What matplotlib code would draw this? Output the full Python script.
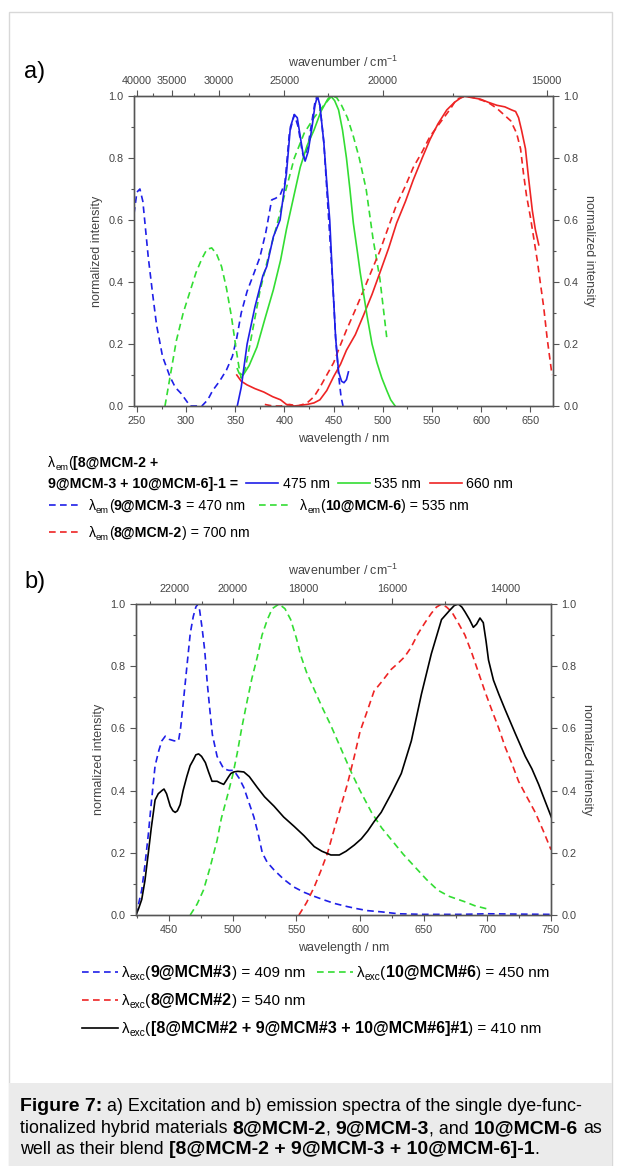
import matplotlib
matplotlib.use('Agg')
import matplotlib.pyplot as plt
from matplotlib.font_manager import FontProperties
from matplotlib.lines import Line2D
from matplotlib.patches import Rectangle
from matplotlib.ticker import MultipleLocator

plt.rcParams['font.family'] = ['Liberation Sans', 'DejaVu Sans']
plt.rcParams['mathtext.fontset'] = 'custom'
plt.rcParams['mathtext.rm'] = 'Liberation Sans'

W, H = 621, 1166
BLUE, GREEN, RED = '#1f1fe8', '#33dd33', '#ee2424'
DASH = (0, (4, 2.6))

# ---- panel a: excitation spectra ----
a_blue_x = [352, 356, 362, 370, 378, 382, 388.7, 395.5, 402, 406, 410, 413, 416, 419, 421, 424, 428, 431,
            433.5, 436, 440, 443, 446, 449, 452, 455, 458, 460.5, 463, 465]
a_blue_y = [0, 0.06, 0.2, 0.32, 0.42, 0.45, 0.546, 0.6, 0.75, 0.9, 0.94, 0.93, 0.87, 0.81, 0.79, 0.82, 0.9,
            0.97, 1.0, 0.97, 0.85, 0.72, 0.6, 0.4, 0.22, 0.11, 0.08, 0.075, 0.085, 0.11]
a_green_x = [352, 354, 358, 364, 372, 380, 388.7, 396, 402, 409, 416, 423, 430, 437, 444, 447, 451, 455,
             459, 463, 466.5, 470, 474, 477, 484, 489, 494, 499, 504, 508, 512.5]
a_green_y = [0.12, 0.105, 0.1, 0.13, 0.19, 0.28, 0.375, 0.47, 0.57, 0.67, 0.77, 0.84, 0.89, 0.95, 0.99, 1.0,
             0.985, 0.955, 0.89, 0.8, 0.7, 0.59, 0.5, 0.43, 0.29, 0.2, 0.14, 0.09, 0.05, 0.02, 0]
a_red_x = [351.5, 356, 362, 370, 379, 388, 396, 402, 410, 418, 423, 430, 436, 443, 450, 457, 463, 472, 480,
           489, 497, 506, 514, 523, 531, 540, 548, 556, 565, 573, 582, 590, 599, 607, 616, 624, 631, 635,
           638, 641, 645, 648, 652, 655, 658.5]
a_red_y = [0.10, 0.08, 0.068, 0.056, 0.045, 0.03, 0.02, 0.005, 0.0, 0.003, 0.005, 0.01, 0.02, 0.05, 0.095,
           0.135, 0.18, 0.23, 0.29, 0.36, 0.43, 0.51, 0.59, 0.66, 0.73, 0.80, 0.86, 0.91, 0.955, 0.98, 1.0,
           0.995, 0.99, 0.98, 0.97, 0.965, 0.955, 0.95, 0.93, 0.89, 0.83, 0.74, 0.63, 0.57, 0.52]
a_blue_d_x = [247, 250, 253, 256, 261.5, 266, 270, 276, 283.5, 289, 295, 304, 316, 322, 327, 334, 341, 347,
              351.5, 356, 362, 368, 375, 381, 387, 391, 395.5, 400.5, 405, 410, 414, 418, 420, 424, 428, 431,
              433, 436, 440, 443, 446, 449, 452, 455, 457.5, 459.5]
a_blue_d_y = [0.62, 0.69, 0.70, 0.66, 0.48, 0.36, 0.26, 0.16, 0.095, 0.06, 0.04, 0.0, 0.0, 0.02, 0.05, 0.08,
              0.116, 0.16, 0.22, 0.3, 0.37, 0.42, 0.48, 0.56, 0.665, 0.67, 0.68, 0.72, 0.88, 0.94, 0.9, 0.82,
              0.8, 0.84, 0.92, 0.98, 1.0, 0.97, 0.85, 0.7, 0.55, 0.4, 0.22, 0.1, 0.03, 0.0]
a_green_d_x = [278.5, 284, 290, 297, 304, 310, 316, 321, 326, 331, 336, 341, 346, 351, 354, 356, 360, 365,
               375, 385, 392, 400, 410, 420, 430, 440, 448, 453, 458, 464, 470, 476, 483, 490, 497, 504]
a_green_d_y = [0, 0.1, 0.21, 0.3, 0.37, 0.43, 0.475, 0.505, 0.51, 0.49, 0.45, 0.38, 0.29, 0.18, 0.12, 0.09,
               0.12, 0.2, 0.37, 0.5, 0.58, 0.68, 0.8, 0.88, 0.93, 0.97, 1.0, 0.995, 0.97, 0.93, 0.87, 0.8,
               0.7, 0.54, 0.41, 0.22]
a_red_d_x = [380, 388, 396, 405, 414, 423, 430, 436, 443, 450, 456, 463, 472, 480, 489, 497, 506, 514, 523,
             531, 540, 548, 555, 562, 569, 575, 580, 585, 592, 602, 609, 616, 623, 630, 636, 640, 643, 646,
             650, 653, 657, 660, 663.5, 667, 672]
a_red_d_y = [0.005, 0.0, 0.0, 0.005, 0.0, 0.01, 0.03, 0.06, 0.1, 0.14, 0.19, 0.245, 0.31, 0.37, 0.44, 0.50,
             0.58, 0.65, 0.71, 0.77, 0.82, 0.87, 0.90, 0.93, 0.96, 0.99, 0.995, 1.0, 0.995, 0.985, 0.975,
             0.96, 0.94, 0.92, 0.88, 0.83, 0.75, 0.68, 0.61, 0.55, 0.47, 0.40, 0.32, 0.22, 0.1]

# ---- panel b: emission spectra ----
b_blue_x = [424, 428.5, 431, 433.7, 436, 439, 442, 444.3, 447, 450, 454, 457.4, 459, 461.3, 464, 466.6, 469,
            471, 472.5, 474, 476, 478, 480, 482, 484, 487.7, 492.9, 497, 500.8, 505, 508.7, 512, 516.6, 520,
            523.2, 527, 532.4, 540, 548, 556, 564, 572, 580, 590, 598, 606, 617, 630, 650, 680, 700, 720, 750]
b_blue_y = [0, 0.08, 0.16, 0.26, 0.36, 0.48, 0.53, 0.56, 0.575, 0.565, 0.56, 0.56, 0.6, 0.69, 0.8, 0.905,
            0.96, 0.99, 1.0, 0.98, 0.92, 0.85, 0.745, 0.66, 0.58, 0.51, 0.47, 0.465, 0.465, 0.44, 0.41, 0.37,
            0.315, 0.26, 0.2, 0.17, 0.145, 0.115, 0.09, 0.073, 0.06, 0.048, 0.037, 0.027, 0.02, 0.014, 0.01,
            0.004, 0.002, 0.002, 0.004, 0.003, 0.002]
b_green_x = [466.6, 472, 477, 482, 487.7, 491, 495.6, 500, 503.5, 507, 511.4, 515, 519.3, 523, 527.2, 531,
             536.3, 541, 545.5, 550, 553.4, 558, 564, 570, 577, 585, 593, 600, 609, 617, 625, 634, 643, 652,
             661, 670, 682, 690, 699.5]
b_green_y = [0, 0.035, 0.08, 0.15, 0.24, 0.31, 0.38, 0.45, 0.52, 0.6, 0.69, 0.76, 0.83, 0.9, 0.95, 0.985,
             1.0, 0.985, 0.95, 0.89, 0.835, 0.78, 0.725, 0.67, 0.61, 0.535, 0.46, 0.40, 0.33, 0.28, 0.24,
             0.195, 0.155, 0.115, 0.08, 0.06, 0.043, 0.03, 0.02]
b_red_x = [552, 558, 564, 569, 574.5, 580, 585, 590, 595.5, 600, 606, 611, 617, 624.5, 630, 635, 640, 645.6,
           651, 656, 660, 664, 668, 672, 677, 682.4, 688, 693, 698, 703.4, 709, 714, 719, 724.5, 731, 737.6,
           744, 750]
b_red_y = [0, 0.04, 0.09, 0.14, 0.2, 0.28, 0.35, 0.42, 0.51, 0.59, 0.66, 0.72, 0.75, 0.79, 0.81, 0.83, 0.86,
           0.905, 0.94, 0.97, 0.99, 1.0, 0.99, 0.975, 0.94, 0.9, 0.84, 0.78, 0.72, 0.66, 0.6, 0.54, 0.49,
           0.43, 0.38, 0.33, 0.27, 0.21]
b_black_x = [424, 426, 428.5, 431, 433.7, 436, 439, 441.5, 444.3, 446, 448, 450.9, 453, 454.8, 456.5, 458.7,
             461, 463.9, 466.5, 469.2, 471, 473.2, 475.5, 478.5, 481, 483.7, 487.7, 490, 492.9, 494.5, 496.8,
             498.5, 500.8, 504, 508.7, 513, 519.3, 525, 532.4, 540, 548.2, 556, 564, 570, 577.1, 583.7, 589,
             595.5, 601, 606, 611, 616.6, 624.5, 632.4, 640.3, 648.2, 656, 664, 670.5, 674, 677.2, 680,
             682.4, 686, 689, 691.5, 694.2, 696.8, 699, 700.9, 704.8, 709, 714, 721.9, 729.8, 735, 740.3,
             745, 750.7]
b_black_y = [0.0, 0.02, 0.05, 0.11, 0.2, 0.28, 0.37, 0.39, 0.40, 0.405, 0.39, 0.35, 0.335, 0.33, 0.335,
             0.355, 0.4, 0.445, 0.48, 0.50, 0.515, 0.518, 0.51, 0.49, 0.46, 0.43, 0.43, 0.425, 0.42, 0.43,
             0.445, 0.455, 0.46, 0.462, 0.46, 0.445, 0.41, 0.38, 0.35, 0.315, 0.285, 0.255, 0.22, 0.205,
             0.193, 0.193, 0.205, 0.225, 0.245, 0.27, 0.3, 0.33, 0.39, 0.455, 0.56, 0.71, 0.84, 0.95, 0.98,
             0.995, 1.0, 0.99, 0.975, 0.95, 0.925, 0.935, 0.955, 0.94, 0.88, 0.82, 0.755, 0.71, 0.66, 0.584,
             0.51, 0.47, 0.42, 0.37, 0.31]

a_wn_major = [40000, 35000, 30000, 25000, 20000, 15000]
a_wn_minor = [37500, 32500, 27500, 22500, 17500]
b_wn_major = [22000, 20000, 18000, 16000, 14000]
b_wn_minor = [23000, 21000, 19000, 17000, 15000]

fig = plt.figure(figsize=(W / 100, H / 100), dpi=100)
renderer = fig.canvas.get_renderer()

# frame and caption box
fig.add_artist(Rectangle((9 / W, 0), 603 / W, 1 - 12 / H, transform=fig.transFigure,
                         fc='none', ec='#d8d8d8', lw=1))
fig.add_artist(Rectangle((9 / W, 0), 603 / W, 83 / H, transform=fig.transFigure,
                         fc='#ebebeb', ec='none'))


def axes_px(l, t, r, b):
    return fig.add_axes([l / W, 1 - b / H, (r - l) / W, (b - t) / H])


def setup(ax, xlim, xticks, wn_major, wn_minor):
    grey = '#555555'
    lab = dict(fontsize=9, color='#444')
    ax.set_xlim(xlim)
    ax.set_ylim(0, 1)
    ax.set_xticks(xticks)
    ax.xaxis.set_minor_locator(MultipleLocator(25))
    ax.yaxis.set_major_locator(MultipleLocator(0.2))
    ax.yaxis.set_minor_locator(MultipleLocator(0.1))
    ax.yaxis.set_major_formatter('{x:.1f}')
    ax.set_xlabel('wavelength / nm', labelpad=5, **lab)
    ax.set_ylabel('normalized intensity', labelpad=4, **lab)
    top = ax.twiny()
    top.set_xlim(xlim)
    top.set_xticks([1e7 / w for w in wn_major])
    top.set_xticklabels([str(w) for w in wn_major])
    top.set_xticks([1e7 / w for w in wn_minor], minor=True)
    top.set_xlabel('wavenumber / cm$^{-1}$', labelpad=6, **lab)
    right = ax.twinx()
    right.set_ylim(0, 1)
    right.yaxis.set_major_locator(MultipleLocator(0.2))
    right.yaxis.set_minor_locator(MultipleLocator(0.1))
    right.yaxis.set_major_formatter('{x:.1f}')
    right.set_ylabel('normalized intensity', rotation=270, labelpad=12, **lab)
    for a in (ax, top, right):
        a.tick_params(which='both', direction='out', labelsize=7.8, labelcolor='#444', color=grey, width=0.8)
        a.tick_params(which='major', length=4)
        a.tick_params(which='minor', length=2)
        for s in a.spines.values():
            s.set_color(grey)
            s.set_linewidth(0.9)


def advance(s, fs, weight):
    fp = FontProperties(family='Liberation Sans', size=fs, weight=weight)
    w1 = renderer.get_text_width_height_descent('X' + s + 'X', fp, ismath=False)[0]
    w0 = renderer.get_text_width_height_descent('XX', fp, ismath=False)[0]
    return w1 - w0


def rich(x, y, pieces, size=10.2, bsize=None):
    # pieces: (text, kind) with kind 'n' normal, 'b' bold, 's' subscript; x, y in pixels (baseline)
    bsize = bsize or size
    for s, kind in pieces:
        fs = {'n': size, 'b': bsize, 's': 0.66 * size}[kind]
        weight = 'bold' if kind == 'b' else 'normal'
        lead = len(s) - len(s.lstrip(' '))
        x0 = x + (advance(' ' * lead, fs, weight) if lead else 0)
        yy = y + (0.3 * size if kind == 's' else 0)
        fig.text(x0 / W, 1 - yy / H, s.strip(), fontsize=fs, va='baseline', fontweight=weight)
        x += advance(s, fs, weight)
    return x


def seg(x0, x1, y, color, ls):
    fig.add_artist(Line2D([x0 / W, x1 / W], [1 - y / H, 1 - y / H], transform=fig.transFigure,
                          color=color, ls=ls, lw=1.2))


# ---- panel a ----
ax1 = axes_px(134, 96, 553, 406)
ax1.plot(a_blue_d_x, a_blue_d_y, color=BLUE, ls=DASH, lw=1.2)
ax1.plot(a_green_d_x, a_green_d_y, color=GREEN, ls=DASH, lw=1.2)
ax1.plot(a_red_d_x, a_red_d_y, color=RED, ls=DASH, lw=1.2)
ax1.plot(a_red_x, a_red_y, color=RED, lw=1.2)
ax1.plot(a_green_x, a_green_y, color=GREEN, lw=1.2)
ax1.plot(a_blue_x, a_blue_y, color=BLUE, lw=1.2)
setup(ax1, (247, 673), list(range(250, 651, 50)), a_wn_major, a_wn_minor)
fig.text(24 / W, 1 - 78 / H, 'a)', fontsize=17)

rich(48, 467, [('λ', 'n'), ('em', 's'), ('(', 'n'), ('[8@MCM-2 +', 'b')])
rich(48, 488, [('9@MCM-3 + 10@MCM-6]-1 =', 'b')])
seg(246, 278, 483, BLUE, '-')
rich(283, 488, [('475 nm', 'n')])
seg(338, 370, 483, GREEN, '-')
rich(374, 488, [('535 nm', 'n')])
seg(430, 462, 483, RED, '-')
rich(466, 488, [('660 nm', 'n')])
seg(49, 82, 505, BLUE, DASH)
rich(89, 510, [('λ', 'n'), ('em', 's'), ('(', 'n'), ('9@MCM-3', 'b'), (' = 470 nm', 'n')])
seg(259, 292, 505, GREEN, DASH)
rich(300, 510, [('λ', 'n'), ('em', 's'), ('(', 'n'), ('10@MCM-6', 'b'), (') = 535 nm', 'n')])
seg(49, 82, 532, RED, DASH)
rich(89, 537, [('λ', 'n'), ('em', 's'), ('(', 'n'), ('8@MCM-2', 'b'), (') = 700 nm', 'n')])

# ---- panel b ----
ax2 = axes_px(136, 604, 551, 915)
ax2.plot(b_blue_x, b_blue_y, color=BLUE, ls=DASH, lw=1.2)
ax2.plot(b_green_x, b_green_y, color=GREEN, ls=DASH, lw=1.2)
ax2.plot(b_red_x, b_red_y, color=RED, ls=DASH, lw=1.2)
ax2.plot(b_black_x, b_black_y, color='black', lw=1.2)
setup(ax2, (424, 750), list(range(450, 751, 50)), b_wn_major, b_wn_minor)
fig.text(24 / W, 1 - 588 / H, 'b)', fontsize=17)

lb, lbb = 11, 11.6
seg(82, 118, 972, BLUE, DASH)
rich(122, 977, [('λ', 'n'), ('exc', 's'), ('(', 'n'), ('9@MCM#3', 'b'), (') = 409 nm', 'n')], lb, lbb)
seg(317, 353, 972, GREEN, DASH)
rich(357, 977, [('λ', 'n'), ('exc', 's'), ('(', 'n'), ('10@MCM#6', 'b'), (') = 450 nm', 'n')], lb, lbb)
seg(82, 118, 1000, RED, DASH)
rich(122, 1005, [('λ', 'n'), ('exc', 's'), ('(', 'n'), ('8@MCM#2', 'b'), (') = 540 nm', 'n')], lb, lbb)
seg(82, 118, 1028, 'black', '-')
rich(122, 1033, [('λ', 'n'), ('exc', 's'), ('(', 'n'),
                 ('[8@MCM#2 + 9@MCM#3 + 10@MCM#6]#1', 'b'), (') = 410 nm', 'n')], lb, lbb)

# ---- caption ----
cap, capb = 12.9, 14
rich(20, 1111, [('Figure 7:', 'b'), (' a) Excitation and b) emission spectra of the single dye-func-', 'n')],
     cap, capb)
rich(20, 1133, [('tionalized hybrid materials ', 'n'), ('8@MCM-2', 'b'), (', ', 'n'), ('9@MCM-3', 'b'),
                (', and ', 'n'), ('10@MCM-6', 'b'), (' as', 'n')], cap, capb)
rich(20, 1154, [('well as their blend ', 'n'), ('[8@MCM-2 + 9@MCM-3 + 10@MCM-6]-1', 'b'), ('.', 'n')],
     cap, capb)

fig.savefig('out.png', dpi=100)
